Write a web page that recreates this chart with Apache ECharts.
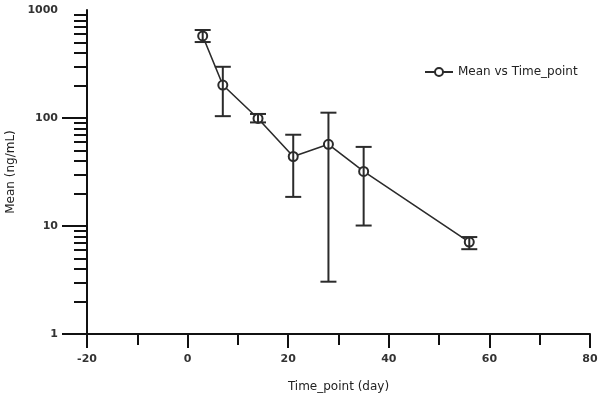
<!DOCTYPE html>
<html>
<head>
<meta charset="utf-8">
<script src="https://cdn.jsdelivr.net/npm/echarts@6/dist/echarts.min.js"></script>
<style>html,body{margin:0;padding:0;background:#fff}#c{width:600px;height:401px}</style>
</head>
<body>
<div id="c"></div>
<script>
var timePoints = [3, 7, 14, 21, 28, 35, 56];
var means = [575, 202, 99, 44, 57, 32, 7.1];
var upper = [653, 298, 109, 70, 112, 54, 7.9];
var lower = [505, 104, 91, 18.6, 3.05, 10.1, 6.1];
var yMajorTicks = [1, 10, 100];
var yMinorTicks = [2,3,4,5,6,7,8,9,20,30,40,50,60,70,80,90,200,300,400,500,600,700,800,900];
var seriesName = 'Mean vs Time_point';

var lineData = timePoints.map(function (t, i) { return [t, means[i]]; });
var errData = timePoints.map(function (t, i) { return [t, lower[i], upper[i]]; });

var chart = echarts.init(document.getElementById('c'), null, {renderer: 'canvas'});
var fontFam = 'DejaVu Sans, Verdana, sans-serif';
var ink = '#2b2b2b';
chart.setOption({
  animation: false,
  backgroundColor: '#fff',
  grid: {left: 87, right: 10, top: 10, bottom: 67, containLabel: false, outerBoundsMode: 'none'},
  legend: {
    data: [seriesName],
    left: 419, top: 61,
    itemWidth: 28, itemHeight: 10, itemGap: 5,
    textStyle: {fontFamily: fontFam, fontSize: 12, color: '#222'}
  },
  xAxis: {
    type: 'value', min: -20, max: 80, interval: 20,
    name: 'Time_point (day)', nameLocation: 'middle', nameGap: 47,
    nameTextStyle: {fontFamily: fontFam, fontSize: 12, color: '#222'},
    axisLine: {onZero: false, lineStyle: {color: '#111', width: 2}},
    axisTick: {show: true, length: 14, lineStyle: {color: '#111', width: 2}},
    minorTick: {show: true, splitNumber: 2, length: 11, lineStyle: {color: '#111', width: 2}},
    axisLabel: {margin: 20, fontFamily: fontFam, fontSize: 11, fontWeight: 'bold', color: '#333'},
    splitLine: {show: false}
  },
  yAxis: [{
    type: 'log', logBase: 10, min: 1, max: 1000,
    name: 'Mean (ng/mL)', nameLocation: 'middle', nameGap: 68,
    nameTextStyle: {fontFamily: fontFam, fontSize: 12, color: '#222'},
    axisLine: {onZero: false, lineStyle: {color: '#111', width: 2}},
    axisTick: {show: true, length: 25, customValues: yMajorTicks, lineStyle: {color: '#111', width: 2}},
    axisLabel: {margin: 29, fontFamily: fontFam, fontSize: 11, fontWeight: 'bold', color: '#333',
      formatter: function (v) { return String(Math.round(v)); }},
    splitLine: {show: false}
  }, {
    type: 'log', logBase: 10, min: 1, max: 1000, position: 'left', offset: 0,
    axisLine: {show: false, onZero: false},
    axisTick: {show: true, length: 13, customValues: yMinorTicks, lineStyle: {color: '#111', width: 2}},
    axisLabel: {show: false},
    splitLine: {show: false}
  }],
  series: [{
    name: seriesName,
    type: 'line',
    data: lineData,
    symbol: 'emptyCircle', symbolSize: 9,
    lineStyle: {color: ink, width: 1.6},
    itemStyle: {color: ink, borderColor: ink, borderWidth: 1.5},
    z: 2
  }, {
    type: 'custom',
    data: errData,
    z: 3,
    silent: true,
    renderItem: function (params, api) {
      var x = api.value(0);
      var lo = api.coord([x, api.value(1)]);
      var hi = api.coord([x, api.value(2)]);
      var hw = 8;
      var st = {stroke: ink, lineWidth: 2};
      return {
        type: 'group',
        children: [
          {type: 'line', shape: {x1: lo[0], y1: lo[1], x2: hi[0], y2: hi[1]}, style: st},
          {type: 'line', shape: {x1: hi[0] - hw, y1: hi[1], x2: hi[0] + hw, y2: hi[1]}, style: st},
          {type: 'line', shape: {x1: lo[0] - hw, y1: lo[1], x2: lo[0] + hw, y2: lo[1]}, style: st}
        ]
      };
    }
  }]
});
</script>
</body>
</html>
